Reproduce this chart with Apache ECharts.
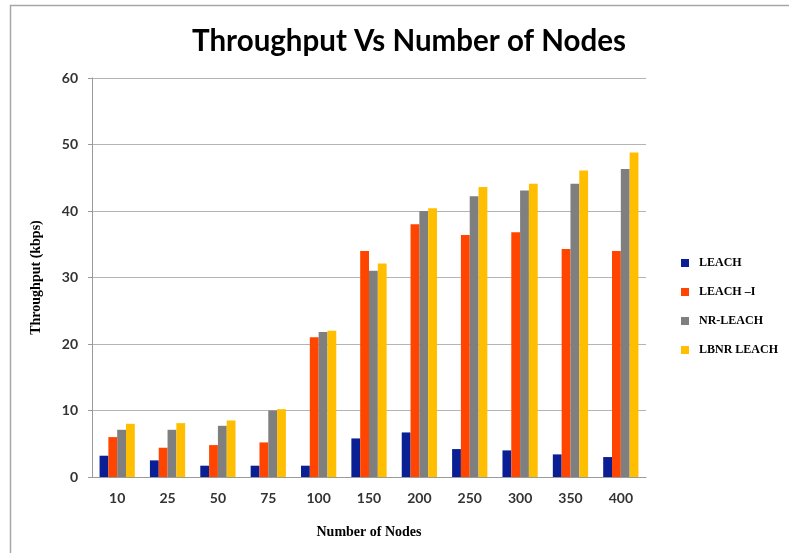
<!DOCTYPE html>
<html>
<head>
<meta charset="utf-8">
<script src="https://cdn.jsdelivr.net/npm/echarts@6/dist/echarts.min.js"></script>
<style>
  html, body { margin: 0; padding: 0; background: #fff; }
  #chart { width: 789px; height: 553px; }
</style>
</head>
<body>
<div id="chart"></div>
<script>
// Node counts on the category axis
const nodeCounts = ['10', '25', '50', '75', '100', '150', '200', '250', '300', '350', '400'];

// Throughput (kbps) per protocol
const leach     = [3.2, 2.5, 1.7, 1.7, 1.7, 5.8, 6.7, 4.2, 4.0, 3.4, 3.0];
const leachI    = [6.0, 4.4, 4.8, 5.2, 21.0, 34.0, 38.0, 36.4, 36.8, 34.3, 34.0];
const nrLeach   = [7.1, 7.1, 7.7, 10.0, 21.8, 31.0, 40.0, 42.2, 43.1, 44.1, 46.3];
const lbnrLeach = [8.0, 8.1, 8.5, 10.2, 22.0, 32.1, 40.4, 43.6, 44.1, 46.1, 48.8];

const seriesNames = ['LEACH', 'LEACH –I', 'NR-LEACH', 'LBNR LEACH'];
const seriesData = [leach, leachI, nrLeach, lbnrLeach];
const seriesColors = ['#0a1f94', '#ff4500', '#7f7f7f', '#ffbf00'];

const chart = echarts.init(document.getElementById('chart'), null, { renderer: 'canvas' });

chart.setOption({
  backgroundColor: '#ffffff',
  animation: false,
  graphic: [{
    type: 'rect',
    shape: { x: 10.5, y: 5.5, width: 800, height: 600 },
    style: { fill: 'none', stroke: '#a6a6a6', lineWidth: 1.5 },
    silent: true
  }],
  title: {
    text: 'Throughput Vs Number of Nodes',
    left: 404,
    top: 21,
    textAlign: 'center',
    textStyle: { fontFamily: 'Lato', fontWeight: 'bold', fontSize: 29.5, color: '#000' }
  },
  legend: {
    orient: 'vertical',
    left: 676,
    top: 252,
    itemWidth: 8,
    itemHeight: 8,
    itemGap: 17,
    icon: 'rect',
    textStyle: { fontFamily: 'Liberation Serif', fontWeight: 'bold', fontSize: 12, color: '#000', padding: [0, 0, 0, 5] },
    data: seriesNames
  },
  grid: { left: 92, right: 143, top: 78, bottom: 76, containLabel: false },
  xAxis: {
    type: 'category',
    data: nodeCounts,
    name: 'Number of Nodes',
    nameLocation: 'middle',
    nameGap: 48,
    nameTextStyle: { fontFamily: 'Liberation Serif', fontWeight: 'bold', fontSize: 14, color: '#000' },
    axisLine: { lineStyle: { color: '#9a9a9a', width: 1 } },
    axisTick: { show: false },
    axisLabel: { fontFamily: 'Lato', fontWeight: 'bold', fontSize: 14, color: '#333', margin: 14 }
  },
  yAxis: {
    type: 'value',
    min: 0,
    max: 60,
    interval: 10,
    name: 'Throughput (kbps)',
    nameLocation: 'middle',
    nameGap: 49,
    nameTextStyle: { fontFamily: 'Liberation Serif', fontWeight: 'bold', fontSize: 14, color: '#000' },
    axisLine: { show: true, lineStyle: { color: '#9a9a9a', width: 1 } },
    axisTick: { show: true, length: 4, lineStyle: { color: '#9a9a9a' } },
    axisLabel: { fontFamily: 'Lato', fontWeight: 'bold', fontSize: 14, color: '#333', margin: 14 },
    splitLine: { lineStyle: { color: '#b4b4b4', width: 1 } }
  },
  series: seriesNames.map((name, i) => ({
    name: name,
    type: 'bar',
    data: seriesData[i],
    barGap: '0%',
    barCategoryGap: '30%',
    itemStyle: { color: seriesColors[i] }
  }))
});
</script>
</body>
</html>
